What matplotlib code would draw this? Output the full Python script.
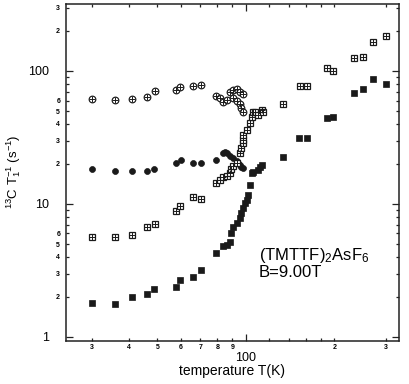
import numpy as np
import matplotlib
matplotlib.use("Agg")
import matplotlib.pyplot as plt
from matplotlib.ticker import FixedLocator, FixedFormatter

plt.rcParams['font.family'] = ['Liberation Sans', 'DejaVu Sans']
plt.rcParams['mathtext.default'] = 'regular'

# ── Data ──────────────────────────────────────────────────────────────────
# open circle with cross
t_oc = [30.1, 36.0, 41.0, 46.0, 49.0, 57.7, 59.9, 66.2, 70.5, 79.4, 81.6, 83.7,
        86.0, 88.3, 90.5, 93.0, 95.4, 98.0, 90.5, 93.0, 95.4, 96.6, 98.0]
r_oc = [61.9, 60.8, 61.2, 63.4, 70.7, 72.0, 75.8, 77.1, 78.9, 64.9, 62.3, 58.8,
        60.5, 69.9, 72.0, 72.9, 69.9, 67.0, 62.3, 59.8, 56.5, 52.4, 49.4]

# filled circles
t_fc = [30.1, 36.0, 41.0, 46.0, 48.9, 57.7, 60.2, 66.2, 70.3, 79.4, 83.7, 85.0,
        86.5, 88.3, 90.5, 93.0, 94.2, 95.4, 96.6, 98.0]
r_fc = [18.4, 17.8, 17.7, 17.7, 18.3, 20.2, 21.3, 20.3, 20.2, 21.4, 24.1, 24.8,
        24.3, 22.9, 22.1, 21.2, 20.2, 19.6, 19.1, 18.6]

# open squares with cross
t_os = [30.1, 36.0, 41.0, 46.0, 49.0, 57.7, 59.9, 66.2, 70.5, 79.4, 81.6, 83.7,
        86.0, 88.3, 89.4, 90.5, 93.0, 95.4, 96.6, 98.0, 98.0, 98.0, 100.7, 103.4,
        104.9, 106.2, 107.6, 110.4, 113.4, 114.8, 134, 153, 161.6, 189.6, 198.6,
        234, 251, 271.5, 300]
r_os = [5.65, 5.65, 5.88, 6.68, 7.07, 8.86, 9.66, 11.35, 10.85, 14.3, 15.1, 15.9,
        16.2, 17.2, 18.2, 19.3, 20.2, 24.1, 26.2, 28.5, 30.2, 32.9, 36.0, 40.4,
        45.3, 49.4, 49.4, 46.6, 50.8, 49.4, 56.5, 77.1, 77.1, 105.9, 100,
        126, 128, 166, 184]

# filled squares
t_fs = [30.1, 36.0, 41.0, 46.0, 48.9, 57.8, 59.9, 66.2, 70.5, 79.4, 83.7, 86.0,
        88.3, 89.4, 90.5, 93.0, 95.4, 96.6, 98.0, 99.3, 100.7, 102.0, 103.4,
        104.9, 106.2, 110.4, 112.0, 113.4, 134, 152, 162, 189.6, 198.6, 234,
        251, 271.5, 300]
r_fs = [1.80, 1.76, 2.01, 2.09, 2.30, 2.38, 2.67, 2.81, 3.20, 4.3, 4.83, 4.9,
        5.2, 6.0, 6.75, 7.16, 7.8, 8.51, 9.29, 10.1, 10.7, 11.7, 13.9,
        17.0, 17.4, 17.9, 19.0, 19.6, 22.7, 31.2, 31.2, 44.1, 44.9, 68,
        73.6, 86.6, 79.8]

x_major = [100]
x_minor = [30, 40, 50, 60, 70, 80, 90, 120, 140, 160, 180, 200, 300]
x_minor_lbl = ['3', '4', '5', '6', '7', '8', '9', '', '', '', '', '2', '3']
y_major = [1, 10, 100]
y_minor = [2, 3, 4, 5, 6, 7, 8, 9, 20, 30, 40, 50, 60, 70, 80, 90, 200, 300]
y_minor_lbl = ['2', '3', '4', '5', '6', '', '', '', '2', '3', '4', '5', '6',
               '', '', '', '2', '3']

# ── Plot ──────────────────────────────────────────────────────────────────
fig = plt.figure(figsize=(4.09, 3.84), dpi=100)
ax = fig.add_axes([0.1606, 0.112, 0.815, 0.8776])

INK = '#1a1a1a'
ax.plot(t_oc, r_oc, 'o', ms=4.8, mfc='white', mec=INK, mew=0.85, ls='none')
ax.plot(t_oc, r_oc, '+', ms=4.8, mec=INK, mew=0.7, ls='none')
ax.plot(t_fc, r_fc, 'o', ms=4.3, mfc=INK, mec=INK, mew=0.5, ls='none')
ax.plot(t_os, r_os, 's', ms=4.5, mfc='white', mec=INK, mew=0.9, ls='none')
ax.plot(t_os, r_os, '+', ms=4.5, mec=INK, mew=0.7, ls='none')
ax.plot(t_fs, r_fs, 's', ms=4.5, mfc=INK, mec=INK, mew=0.5, ls='none')

ax.set_xscale('log')
ax.set_yscale('log')
ax.set_xlim(24.4, 332)
ax.set_ylim(0.933, 319)

ax.xaxis.set_major_locator(FixedLocator(x_major))
ax.xaxis.set_major_formatter(FixedFormatter([str(v) for v in x_major]))
ax.xaxis.set_minor_locator(FixedLocator(x_minor))
ax.xaxis.set_minor_formatter(FixedFormatter(x_minor_lbl))
ax.yaxis.set_major_locator(FixedLocator(y_major))
ax.yaxis.set_major_formatter(FixedFormatter([str(v) for v in y_major]))
ax.yaxis.set_minor_locator(FixedLocator(y_minor))
ax.yaxis.set_minor_formatter(FixedFormatter(y_minor_lbl))

ax.tick_params(which='both', direction='in', top=True, right=True,
               color='#222222', width=0.9)
ax.tick_params(which='major', length=5, labelsize=9)
ax.tick_params(which='minor', length=2.5, labelsize=5)
ax.tick_params(axis='x', which='major', pad=8)
ax.tick_params(axis='x', which='minor', pad=2.5)
ax.tick_params(axis='y', which='major', pad=12)
ax.tick_params(axis='y', which='minor', pad=4)
for lbl in ax.xaxis.get_minorticklabels() + ax.yaxis.get_minorticklabels():
    lbl.set_fontweight('bold')

for sp in ax.spines.values():
    sp.set_linewidth(1.1)
    sp.set_color('#222222')

ax.set_xlabel('temperature T(K)', fontsize=10, labelpad=0)
fig.text(14 / 409, 1 - 172 / 384, r'$^{13}$C T$_1^{-1}$ (s$^{-1}$)',
         rotation=90, fontsize=9.5, ha='center', va='center')

ax.text(0.58, 0.255, r'(TMTTF)$_2$AsF$_6$', transform=ax.transAxes,
        fontsize=12, ha='left', va='center')
ax.text(0.58, 0.203, 'B=9.00T', transform=ax.transAxes,
        fontsize=12, ha='left', va='center')

fig.savefig('out.png', dpi=100)
